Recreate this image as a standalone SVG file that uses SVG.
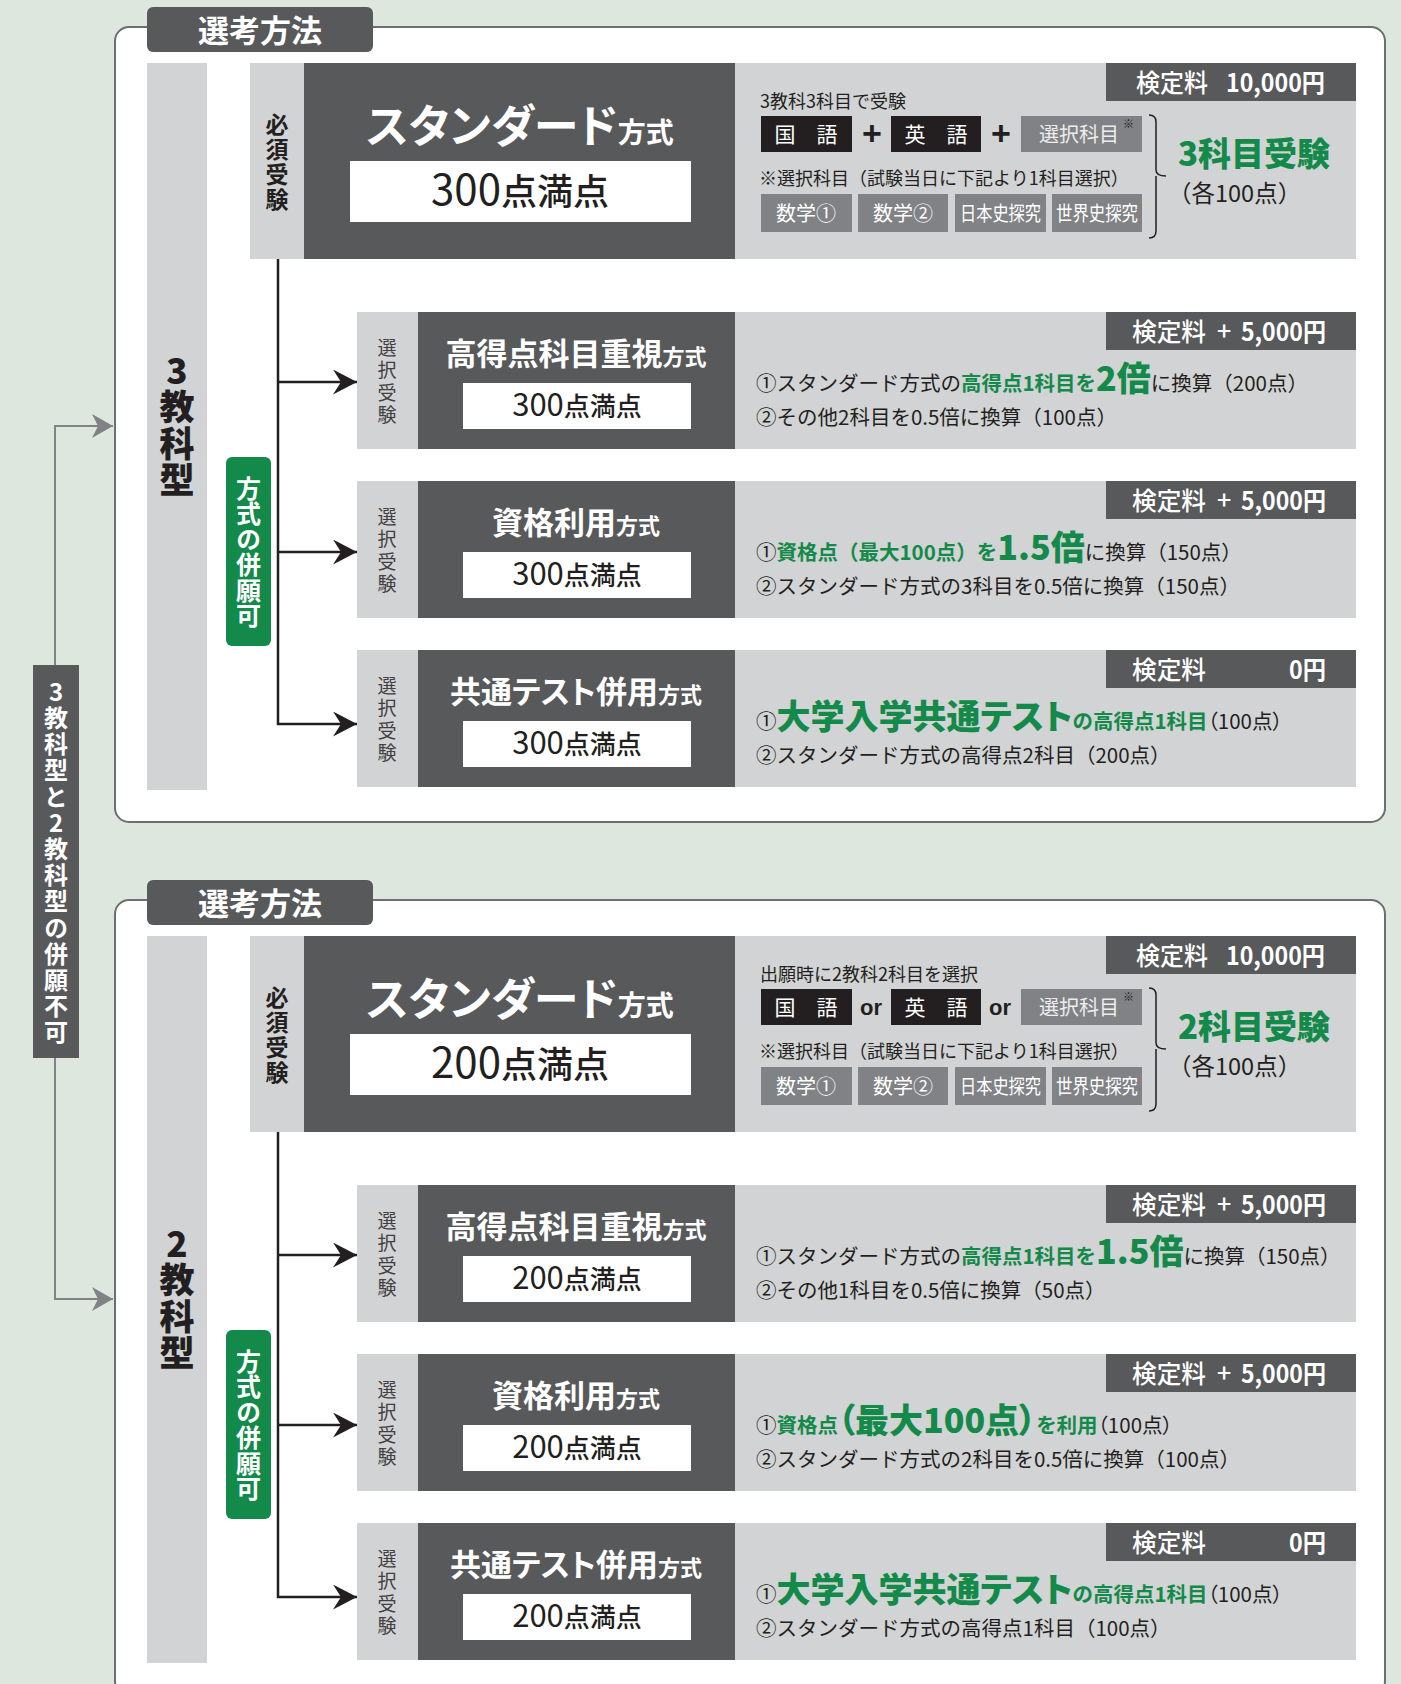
<svg xmlns="http://www.w3.org/2000/svg" width="1401" height="1684" viewBox="0 0 1401 1684">
<defs>
<style>
text{font-family:"Noto Sans CJK JP","Noto Sans",sans-serif;fill:#231f20}
.v{writing-mode:vertical-rl;text-orientation:upright;text-anchor:middle}
.frame{fill:#fff;stroke:#6d6e71;stroke-width:2}
.dk{fill:#58595b}
.lg{fill:#d1d3d4}
.mid{fill:#808285}
.blk{fill:#231f20}
.wh{fill:#fff}
.grn{fill:#138a4a}
.tabt{fill:#fff;font-size:31px;font-weight:700;text-anchor:middle}
.typet{font-size:35px;font-weight:900;letter-spacing:1.5px}
.badget{fill:#fff;font-size:25px;font-weight:700;letter-spacing:0.5px}
.lblt{fill:#fff;font-size:24px;font-weight:700;letter-spacing:2.2px}
.must{font-size:23px;font-weight:700;letter-spacing:2px}
.sel{font-size:19px;fill:#414042;letter-spacing:3.5px}
.bigt{fill:#fff;font-weight:700;text-anchor:middle;font-feature-settings:"palt"}
.score{text-anchor:middle;font-weight:500}
.fee{fill:#fff;font-size:25px;font-weight:500}
.feen{fill:#fff;font-size:25px;font-weight:700}
.info{font-size:20.5px}
.p{font-feature-settings:"palt"}
.g{fill:#138a4a;font-weight:700}
.gb{fill:#138a4a;font-weight:900;font-size:34px}
.small{font-size:18px}
.boxt{fill:#fff;font-size:21px;text-anchor:middle}
.selt{fill:#eceded;font-size:20px;text-anchor:middle}
.subt{fill:#fff;font-size:20px;text-anchor:middle}
.plus{font-family:"Liberation Sans",sans-serif;font-size:34px;font-weight:700;text-anchor:middle}
.or{font-family:"Liberation Sans",sans-serif;font-size:22px;font-weight:700;text-anchor:middle}
.brace{fill:none;stroke:#231f20;stroke-width:1.5}
.ln{fill:none;stroke:#231f20;stroke-width:2.5}
.gln{fill:none;stroke:#808285;stroke-width:2}
.res{fill:#138a4a;font-size:33px;font-weight:900;font-feature-settings:"palt"}
.each{font-size:23.5px}
</style>
<marker id="ah" markerUnits="userSpaceOnUse" markerWidth="26" markerHeight="26" refX="24" refY="12.5" orient="auto">
<path d="M0,0 L24,12.5 L0,25 L8,12.5 Z" fill="#231f20"/>
</marker>
<marker id="gah" markerUnits="userSpaceOnUse" markerWidth="24" markerHeight="26" refX="21" refY="12" orient="auto">
<path d="M0,0 L21,12 L0,24 L6,12 Z" fill="#808285"/>
</marker>
</defs>
<rect x="0" y="0" width="1401" height="1684" fill="#dee7de"/>

<!-- ===== Section 1 ===== -->
<g id="section1">
<g id="frame1"><rect class="frame" x="115" y="27" width="1270" height="795" rx="14"/></g>
<g id="tab1"><rect class="dk" x="147" y="7" width="226" height="45" rx="6"/><text class="tabt" x="260" y="42">選考方法</text></g>
<g id="type3"><rect class="lg" x="147" y="63" width="60" height="727"/>
<text class="typet v" x="177" y="426">3教科型</text></g>
<g id="badge1"><rect class="grn" x="226" y="457" width="45" height="189" rx="6"/>
<text class="badget v" x="248.5" y="552">方式の併願可</text></g>

<g id="std1">
<rect class="lg" x="250" y="63" width="54" height="196"/>
<rect class="dk" x="304" y="63" width="431" height="196"/>
<rect class="lg" x="735" y="63" width="621" height="196"/>
<text class="must v" x="277" y="163">必須受験</text>
<text class="bigt" x="520" y="143"><tspan font-size="45">スタンダード</tspan><tspan font-size="28">方式</tspan></text>
<rect class="wh" x="350" y="161" width="341" height="61"/>
<text class="score" x="520" y="205"><tspan font-size="42" font-weight="400">300</tspan><tspan font-size="36">点満点</tspan></text>
<rect class="dk" x="1106" y="63" width="250" height="38"/>
<text class="fee" x="1136" y="92" textLength="72" lengthAdjust="spacingAndGlyphs">検定料</text>
<text class="feen" x="1226" y="92" textLength="99" lengthAdjust="spacingAndGlyphs">10,000円</text>
<text class="small" x="760" y="108" font-size="19">3教科3科目で受験</text>
<rect class="blk" x="761" y="116" width="91" height="36"/><text class="boxt" x="806" y="142">国　語</text>
<text class="plus" x="872" y="145">+</text>
<rect class="blk" x="891" y="116" width="90" height="36"/><text class="boxt" x="936" y="142">英　語</text>
<text class="plus" x="1001" y="145">+</text>
<rect class="mid" x="1021" y="116" width="121" height="36"/><text class="selt" x="1079" y="142">選択科目</text><text fill="#eceded" font-size="11" x="1123" y="128">※</text>
<text class="small" x="759" y="185">※選択科目（試験当日に下記より1科目選択）</text>
<rect class="mid" x="761" y="194" width="91" height="38"/><text class="subt" x="806" y="221">数学①</text>
<rect class="mid" x="858" y="194" width="90" height="38"/><text class="subt" x="903" y="221">数学②</text>
<rect class="mid" x="955" y="194" width="91" height="38"/><text class="subt" x="1000.5" y="221" textLength="81" lengthAdjust="spacingAndGlyphs">日本史探究</text>
<rect class="mid" x="1052" y="194" width="90" height="38"/><text class="subt" x="1097" y="221" textLength="82" lengthAdjust="spacingAndGlyphs">世界史探究</text>
<path class="brace" d="M1149,115 Q1156,115 1156,122 L1156,170 Q1156,176 1166,176 M1156,176 Q1156,182 1156,188 L1156,231 Q1156,238 1149,238"/>
<text class="res" x="1178" y="166">3科目受験</text>
<text class="each" x="1168" y="202">（各100点）</text>
</g>

<g id="r1a">
<rect class="lg" x="357" y="312" width="61" height="137"/>
<rect class="dk" x="418" y="312" width="317" height="137"/>
<rect class="lg" x="735" y="312" width="621" height="137"/>
<text class="sel v" x="387" y="383">選択受験</text>
<text class="bigt" x="576" y="365"><tspan font-size="31">高得点科目重視</tspan><tspan font-size="22">方式</tspan></text>
<rect class="wh" x="463" y="383" width="228" height="46"/>
<text class="score" x="577" y="416"><tspan font-size="31" font-weight="400">300</tspan><tspan font-size="26">点満点</tspan></text>
<rect class="dk" x="1106" y="312" width="250" height="38"/>
<text class="fee" x="1132" y="341" textLength="74" lengthAdjust="spacingAndGlyphs">検定料</text>
<text class="fee" x="1217" y="340" font-size="22">+</text>
<text class="feen" x="1241" y="341" textLength="85" lengthAdjust="spacingAndGlyphs">5,000円</text>
<text class="info" x="756" y="391">①スタンダード方式の<tspan class="g">高得点1科目を</tspan><tspan class="gb">2倍</tspan>に換算（200点）</text>
<text class="info" x="756" y="425">②その他2科目を0.5倍に換算（100点）</text>
</g>

<g id="r1b">
<rect class="lg" x="357" y="481" width="61" height="137"/>
<rect class="dk" x="418" y="481" width="317" height="137"/>
<rect class="lg" x="735" y="481" width="621" height="137"/>
<text class="sel v" x="387" y="552">選択受験</text>
<text class="bigt" x="576" y="534"><tspan font-size="31">資格利用</tspan><tspan font-size="22">方式</tspan></text>
<rect class="wh" x="463" y="552" width="228" height="46"/>
<text class="score" x="577" y="585"><tspan font-size="31" font-weight="400">300</tspan><tspan font-size="26">点満点</tspan></text>
<rect class="dk" x="1106" y="481" width="250" height="38"/>
<text class="fee" x="1132" y="510" textLength="74" lengthAdjust="spacingAndGlyphs">検定料</text>
<text class="fee" x="1217" y="509" font-size="22">+</text>
<text class="feen" x="1241" y="510" textLength="85" lengthAdjust="spacingAndGlyphs">5,000円</text>
<text class="info" x="756" y="560">①<tspan class="g">資格点（最大100点）を</tspan><tspan class="gb">1.5倍</tspan>に換算（150点）</text>
<text class="info" x="756" y="594">②スタンダード方式の3科目を0.5倍に換算（150点）</text>
</g>

<g id="r1c">
<rect class="lg" x="357" y="650" width="61" height="137"/>
<rect class="dk" x="418" y="650" width="317" height="137"/>
<rect class="lg" x="735" y="650" width="621" height="137"/>
<text class="sel v" x="387" y="721">選択受験</text>
<text class="bigt" x="576" y="703"><tspan font-size="31">共通テスト併用</tspan><tspan font-size="22">方式</tspan></text>
<rect class="wh" x="463" y="721" width="228" height="46"/>
<text class="score" x="577" y="754"><tspan font-size="31" font-weight="400">300</tspan><tspan font-size="26">点満点</tspan></text>
<rect class="dk" x="1106" y="650" width="250" height="38"/>
<text class="fee" x="1132" y="679" textLength="74" lengthAdjust="spacingAndGlyphs">検定料</text>
<text class="feen" x="1289" y="679" textLength="37" lengthAdjust="spacingAndGlyphs">0円</text>
<text class="info" x="756" y="729">①<tspan class="gb p" font-size="31">大学入学共通テスト</tspan><tspan class="g">の高得点1科目</tspan><tspan class="p">（100点）</tspan></text>
<text class="info" x="756" y="763">②スタンダード方式の高得点2科目（200点）</text>
</g>
</g>

<!-- ===== Section 2 ===== -->
<g id="section2" transform="translate(0,873)">
<g id="frame2"><rect class="frame" x="115" y="27" width="1270" height="795" rx="14"/></g>
<g id="tab2"><rect class="dk" x="147" y="7" width="226" height="45" rx="6"/><text class="tabt" x="260" y="42">選考方法</text></g>
<g id="type2"><rect class="lg" x="147" y="63" width="60" height="727"/>
<text class="typet v" x="177" y="426">2教科型</text></g>
<g id="badge2"><rect class="grn" x="226" y="457" width="45" height="189" rx="6"/>
<text class="badget v" x="248.5" y="552">方式の併願可</text></g>

<g id="std2">
<rect class="lg" x="250" y="63" width="54" height="196"/>
<rect class="dk" x="304" y="63" width="431" height="196"/>
<rect class="lg" x="735" y="63" width="621" height="196"/>
<text class="must v" x="277" y="163">必須受験</text>
<text class="bigt" x="520" y="143"><tspan font-size="45">スタンダード</tspan><tspan font-size="28">方式</tspan></text>
<rect class="wh" x="350" y="161" width="341" height="61"/>
<text class="score" x="520" y="205"><tspan font-size="42" font-weight="400">200</tspan><tspan font-size="36">点満点</tspan></text>
<rect class="dk" x="1106" y="63" width="250" height="38"/>
<text class="fee" x="1136" y="92" textLength="72" lengthAdjust="spacingAndGlyphs">検定料</text>
<text class="feen" x="1226" y="92" textLength="99" lengthAdjust="spacingAndGlyphs">10,000円</text>
<text class="small" x="760" y="108" font-size="19">出願時に2教科2科目を選択</text>
<rect class="blk" x="761" y="116" width="91" height="36"/><text class="boxt" x="806" y="142">国　語</text>
<text class="or" x="871" y="142">or</text>
<rect class="blk" x="891" y="116" width="90" height="36"/><text class="boxt" x="936" y="142">英　語</text>
<text class="or" x="1000" y="142">or</text>
<rect class="mid" x="1021" y="116" width="121" height="36"/><text class="selt" x="1079" y="142">選択科目</text><text fill="#eceded" font-size="11" x="1123" y="128">※</text>
<text class="small" x="759" y="185">※選択科目（試験当日に下記より1科目選択）</text>
<rect class="mid" x="761" y="194" width="91" height="38"/><text class="subt" x="806" y="221">数学①</text>
<rect class="mid" x="858" y="194" width="90" height="38"/><text class="subt" x="903" y="221">数学②</text>
<rect class="mid" x="955" y="194" width="91" height="38"/><text class="subt" x="1000.5" y="221" textLength="81" lengthAdjust="spacingAndGlyphs">日本史探究</text>
<rect class="mid" x="1052" y="194" width="90" height="38"/><text class="subt" x="1097" y="221" textLength="82" lengthAdjust="spacingAndGlyphs">世界史探究</text>
<path class="brace" d="M1149,115 Q1156,115 1156,122 L1156,170 Q1156,176 1166,176 M1156,176 Q1156,182 1156,188 L1156,231 Q1156,238 1149,238"/>
<text class="res" x="1178" y="166">2科目受験</text>
<text class="each" x="1168" y="202">（各100点）</text>
</g>

<g id="r2a">
<rect class="lg" x="357" y="312" width="61" height="137"/>
<rect class="dk" x="418" y="312" width="317" height="137"/>
<rect class="lg" x="735" y="312" width="621" height="137"/>
<text class="sel v" x="387" y="383">選択受験</text>
<text class="bigt" x="576" y="365"><tspan font-size="31">高得点科目重視</tspan><tspan font-size="22">方式</tspan></text>
<rect class="wh" x="463" y="383" width="228" height="46"/>
<text class="score" x="577" y="416"><tspan font-size="31" font-weight="400">200</tspan><tspan font-size="26">点満点</tspan></text>
<rect class="dk" x="1106" y="312" width="250" height="38"/>
<text class="fee" x="1132" y="341" textLength="74" lengthAdjust="spacingAndGlyphs">検定料</text>
<text class="fee" x="1217" y="340" font-size="22">+</text>
<text class="feen" x="1241" y="341" textLength="85" lengthAdjust="spacingAndGlyphs">5,000円</text>
<text class="info" x="756" y="391">①スタンダード方式の<tspan class="g">高得点1科目を</tspan><tspan class="gb">1.5倍</tspan>に換算（150点）</text>
<text class="info" x="756" y="425">②その他1科目を0.5倍に換算（50点）</text>
</g>

<g id="r2b">
<rect class="lg" x="357" y="481" width="61" height="137"/>
<rect class="dk" x="418" y="481" width="317" height="137"/>
<rect class="lg" x="735" y="481" width="621" height="137"/>
<text class="sel v" x="387" y="552">選択受験</text>
<text class="bigt" x="576" y="534"><tspan font-size="31">資格利用</tspan><tspan font-size="22">方式</tspan></text>
<rect class="wh" x="463" y="552" width="228" height="46"/>
<text class="score" x="577" y="585"><tspan font-size="31" font-weight="400">200</tspan><tspan font-size="26">点満点</tspan></text>
<rect class="dk" x="1106" y="481" width="250" height="38"/>
<text class="fee" x="1132" y="510" textLength="74" lengthAdjust="spacingAndGlyphs">検定料</text>
<text class="fee" x="1217" y="509" font-size="22">+</text>
<text class="feen" x="1241" y="510" textLength="85" lengthAdjust="spacingAndGlyphs">5,000円</text>
<text class="info" x="756" y="560">①<tspan class="g">資格点</tspan><tspan class="gb p">（最大100点）</tspan><tspan class="g">を利用</tspan><tspan class="p">（100点）</tspan></text>
<text class="info" x="756" y="594">②スタンダード方式の2科目を0.5倍に換算（100点）</text>
</g>

<g id="r2c">
<rect class="lg" x="357" y="650" width="61" height="137"/>
<rect class="dk" x="418" y="650" width="317" height="137"/>
<rect class="lg" x="735" y="650" width="621" height="137"/>
<text class="sel v" x="387" y="721">選択受験</text>
<text class="bigt" x="576" y="703"><tspan font-size="31">共通テスト併用</tspan><tspan font-size="22">方式</tspan></text>
<rect class="wh" x="463" y="721" width="228" height="46"/>
<text class="score" x="577" y="754"><tspan font-size="31" font-weight="400">200</tspan><tspan font-size="26">点満点</tspan></text>
<rect class="dk" x="1106" y="650" width="250" height="38"/>
<text class="fee" x="1132" y="679" textLength="74" lengthAdjust="spacingAndGlyphs">検定料</text>
<text class="feen" x="1289" y="679" textLength="37" lengthAdjust="spacingAndGlyphs">0円</text>
<text class="info" x="756" y="729">①<tspan class="gb p" font-size="31">大学入学共通テスト</tspan><tspan class="g">の高得点1科目</tspan><tspan class="p">（100点）</tspan></text>
<text class="info" x="756" y="763">②スタンダード方式の高得点1科目（100点）</text>
</g>
</g>

<g id="label-both"><rect class="dk" x="33" y="665" width="46" height="393"/>
<text class="lblt v" x="56" y="863">3教科型と2教科型の併願不可</text></g>

<g id="connectors">
<path class="gln" d="M55,665 V426 H113" marker-end="url(#gah)"/>
<path class="gln" d="M55,1058 V1299 H113" marker-end="url(#gah)"/>
<path class="ln" d="M278,259 V724 H357" marker-end="url(#ah)"/>
<path class="ln" d="M278,382 H357" marker-end="url(#ah)"/>
<path class="ln" d="M278,552 H357" marker-end="url(#ah)"/>
<path class="ln" d="M278,1132 V1597 H357" marker-end="url(#ah)"/>
<path class="ln" d="M278,1255 H357" marker-end="url(#ah)"/>
<path class="ln" d="M278,1425 H357" marker-end="url(#ah)"/>
</g>
</svg>
